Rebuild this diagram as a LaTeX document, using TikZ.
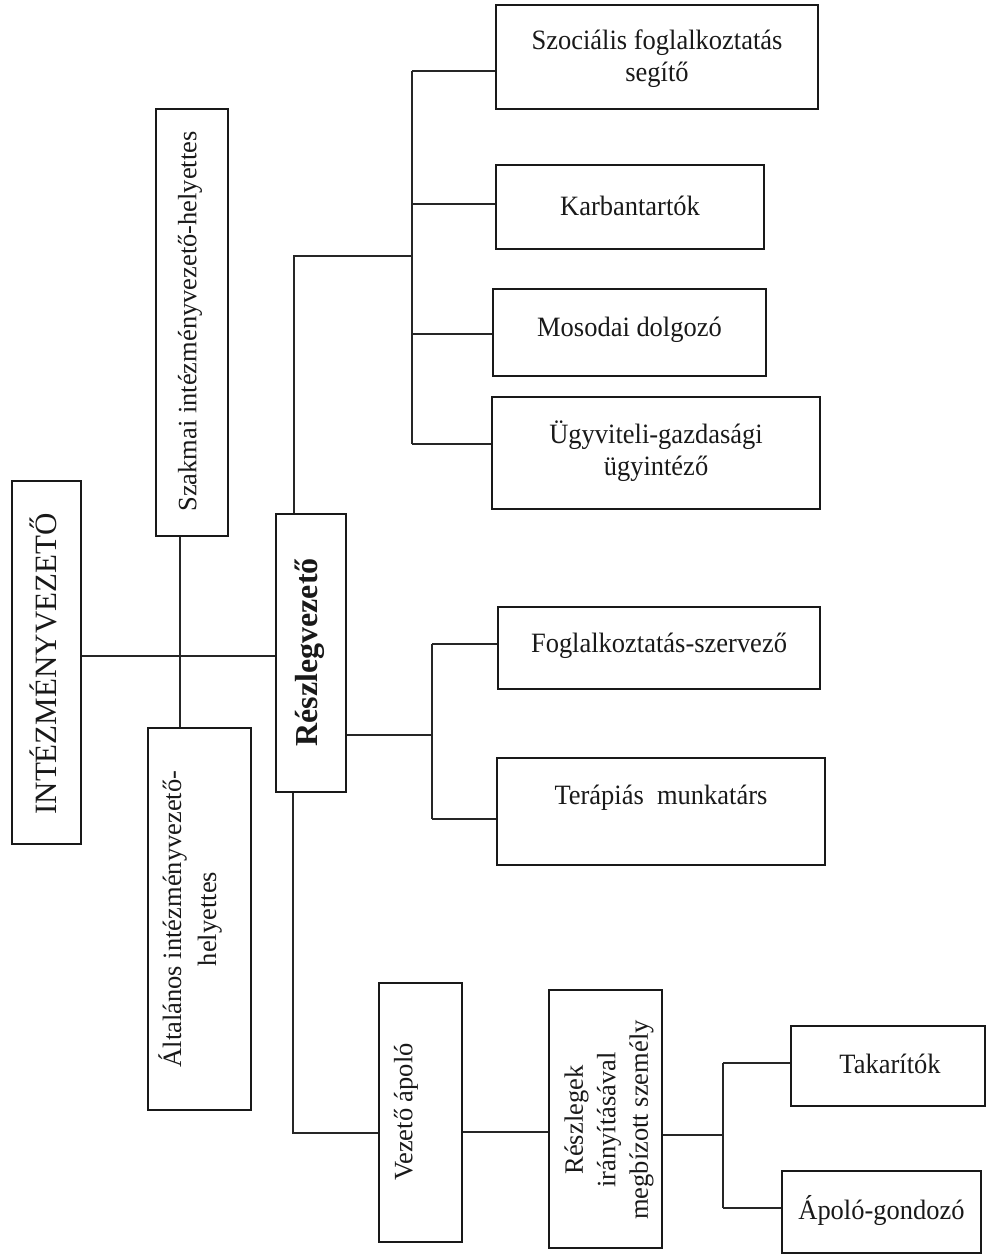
\documentclass[tikz,border=0pt]{standalone}
\usepackage{fontspec}
\setmainfont{Liberation Serif}
\newfontfamily\tallserif[FakeStretch=0.946]{Liberation Serif}
\begin{document}
\begin{tikzpicture}[x=1pt,y=-1pt,
  bx/.style={draw=black!90, line width=1.4pt, inner sep=0pt},
  txt/.style={inner sep=0pt, align=center, text=black!90, font=\tallserif\fontsize{28}{32}\selectfont},
  vtxt/.style={inner sep=0pt, align=center, text=black!90, rotate=90, font=\fontsize{26.5}{32}\selectfont},
  ln/.style={draw=black!85, line width=1.3pt, line join=miter}]
\useasboundingbox (0,0) rectangle (987,1256);
% boxes
\node[bx, minimum width=69pt,  minimum height=363pt] (intez)     at (46.5,662.5) {};
\node[bx, minimum width=72pt,  minimum height=427pt] (szakmai)   at (192,322.5) {};
\node[bx, minimum width=103pt, minimum height=382pt] (altalanos) at (199.5,919) {};
\node[bx, minimum width=70pt,  minimum height=278pt] (reszleg)   at (311,653) {};
\node[bx, minimum width=322pt, minimum height=104pt] (szoc)      at (657,57) {};
\node[bx, minimum width=268pt, minimum height=84pt]  (karb)      at (630,207) {};
\node[bx, minimum width=273pt, minimum height=87pt]  (mosodai)   at (629.5,332.5) {};
\node[bx, minimum width=328pt, minimum height=112pt] (ugyv)      at (656,453) {};
\node[bx, minimum width=322pt, minimum height=82pt]  (foglalk)   at (659,648) {};
\node[bx, minimum width=328pt, minimum height=107pt] (terap)     at (661,811.5) {};
\node[bx, minimum width=83pt,  minimum height=259pt] (vezapolo)  at (420.5,1112.5) {};
\node[bx, minimum width=113pt, minimum height=258pt] (reszlegek) at (605.5,1119) {};
\node[bx, minimum width=194pt, minimum height=80pt]  (takar)     at (888,1066) {};
\node[bx, minimum width=199pt, minimum height=82pt]  (apolo)     at (881.5,1212) {};
% texts
\node[vtxt, font=\fontsize{31}{36}\selectfont] (tintez) at (43,664) {INTÉZMÉNYVEZETŐ};
\node[vtxt] (tszakmai) at (190,321.5) {Szakmai intézményvezető-helyettes};
\node[vtxt, font=\fontsize{26.5}{35}\selectfont] (taltalanos) at (190,919) {Általános intézményvezető-\\helyettes};
\node[vtxt, font=\fontsize{32}{36}\selectfont\bfseries] (treszleg) at (310,652.5) {Részlegvezető};
\node[txt] (tszoc) at (657,59) {Szociális foglalkoztatás\\segítő};
\node[txt] (tkarb) at (630,206) {Karbantartók};
\node[txt] (tmosodai) at (629.5,330) {Mosodai dolgozó};
\node[txt] (tugyv) at (656,451) {Ügyviteli-gazdasági\\ügyintéző};
\node[txt] (tfoglalk) at (659,646) {Foglalkoztatás-szervező};
\node[txt] (tterap) at (661,798) {Terápiás~~munkatárs};
\node[vtxt] (tvezapolo) at (406,1112) {Vezető ápoló};
\node[vtxt, font=\fontsize{26.5}{32.5}\selectfont] (treszlegek) at (609,1120) {Részlegek\\irányításával\\megbízott személy};
\node[txt] (ttakar) at (890,1064) {Takarítók};
\node[txt] (tapolo) at (881.5,1210) {Ápoló-gondozó};
% connectors
\draw[ln] (intez.east |- 0,656) -- (reszleg.west |- 0,656);
\draw[ln] (szakmai.south -| 180,0) -- (altalanos.north -| 180,0);
\draw[ln] (reszleg.north -| 294,0) -- (294,256) -- (412,256);
\draw[ln] (412,71) -- (412,444);
\foreach \n/\yy in {szoc/71, karb/204, mosodai/334, ugyv/444}
  \draw[ln] (412,\yy) -- (\n.west |- 0,\yy);
\draw[ln] (reszleg.east |- 0,735) -- (432,735);
\draw[ln] (432,644) -- (432,819);
\draw[ln] (432,644) -- (foglalk.west |- 0,644);
\draw[ln] (432,819) -- (terap.west |- 0,819);
\draw[ln] (reszleg.south -| 293,0) -- (293,1133) -- (vezapolo.west |- 0,1133);
\draw[ln] (vezapolo.east |- 0,1132) -- (reszlegek.west |- 0,1132);
\draw[ln] (reszlegek.east |- 0,1135) -- (723,1135);
\draw[ln] (723,1063) -- (723,1208);
\draw[ln] (723,1063) -- (takar.west |- 0,1063);
\draw[ln] (723,1208) -- (apolo.west |- 0,1208);
\end{tikzpicture}
\end{document}
